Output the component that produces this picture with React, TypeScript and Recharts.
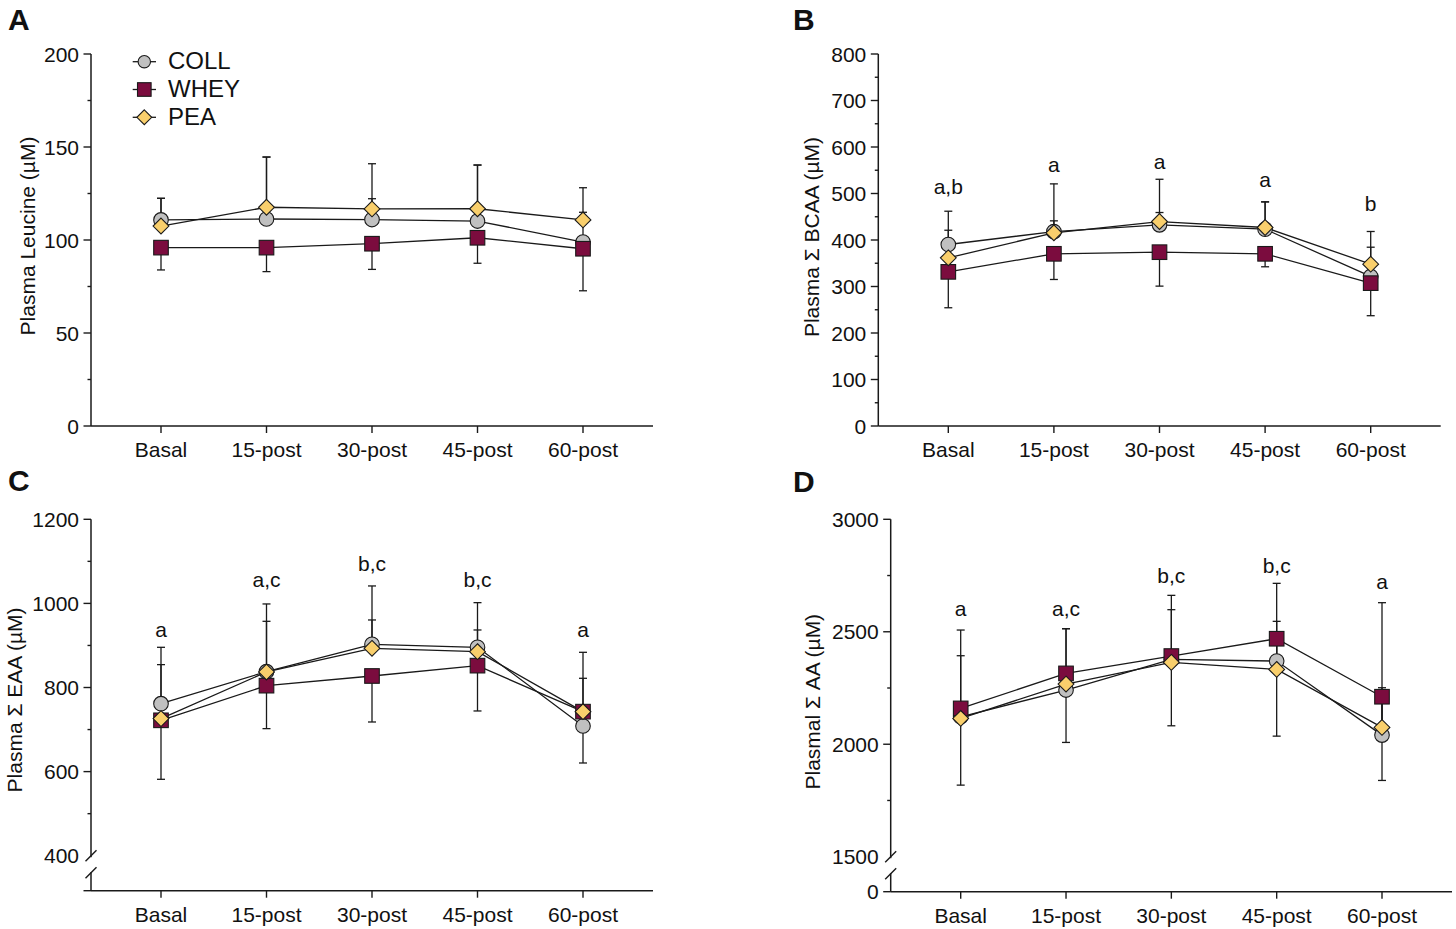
import React from 'react';
import { LineChart, Line, XAxis, YAxis, ErrorBar, LabelList, Legend } from 'recharts';

const FONT = '"Liberation Sans", Arial, Helvetica, sans-serif';
const INK = '#1a1a1a';

const CATEGORIES = ['Basal', '15-post', '30-post', '45-post', '60-post'];

// Panel A – Plasma Leucine
const LEU_COLL = [110.8, 111.3, 111, 110.2, 98.9];
const LEU_COLL_SD = [11.6, 33.3, 11.2, 30.1, 16];
const LEU_WHEY = [95.9, 95.9, 98, 101.2, 95.3];
const LEU_WHEY_SD = [12, 12.9, 13.8, 13.7, 22.6];
const LEU_PEA = [107.5, 117.6, 116.7, 116.8, 110.8];
const LEU_PEA_SD = [14.9, 27, 24.3, 23.5, 17.3];

// Panel B – Plasma Σ BCAA
const BCAA_COLL = [390.3, 418, 432.6, 423.2, 321.6];
const BCAA_COLL_SD = [71.6, 102.7, 98, 58.8, 62.9];
const BCAA_WHEY = [331.5, 370.3, 373.8, 370.3, 307.2];
const BCAA_WHEY_SD = [77.2, 55.2, 73, 27.9, 70];
const BCAA_PEA = [361.6, 415.5, 439.7, 426.9, 348];
const BCAA_PEA_SD = [59.4, 25.7, 19.4, 55.1, 70.3];
const BCAA_SIG = ['a,b', 'a', 'a', 'a', 'b'];
const BCAA_SIG_Y = [499, 546, 553, 513, 463];

// Panel C – Plasma Σ EAA
const EAA_COLL = [761.6, 837.7, 902.7, 895.6, 708.5];
const EAA_COLL_SD = [134, 161, 138.8, 106.2, 175.2];
const EAA_WHEY = [722, 804.4, 827.4, 852, 742.6];
const EAA_WHEY_SD = [140.3, 102.2, 109.4, 107.8, 122.1];
const EAA_PEA = [726, 837, 893.2, 885.3, 742.6];
const EAA_PEA_SD = [128.4, 120.4, 67.4, 51.5, 79.3];
const EAA_SIG = ['a', 'a,c', 'b,c', 'b,c', 'a'];
const EAA_SIG_Y = [921, 1040, 1077, 1040, 921];

// Panel D – Plasma Σ AA
const AA_COLL = [2122, 2240.8, 2377, 2369.8, 2040.6];
const AA_COLL_SD = [385.7, 272.8, 284.9, 345.5, 588.7];
const AA_WHEY = [2159.3, 2314.9, 2392, 2469, 2211.2];
const AA_WHEY_SD = [341.1, 306.9, 310, 433, 372.2];
const AA_PEA = [2114.8, 2267.5, 2363.9, 2332.7, 2074.7];
const AA_PEA_SD = [278.7, 246.1, 234.3, 213.6, 176.5];
const AA_SIG = ['a', 'a,c', 'b,c', 'b,c', 'a'];
const AA_SIG_Y = [2570, 2570, 2718, 2763, 2689];

// Axis ticks
const A_TICKS = [0, 25, 50, 75, 100, 125, 150, 175, 200];
const A_MAJOR = [0, 50, 100, 150, 200];
const B_TICKS = [0, 50, 100, 150, 200, 250, 300, 350, 400, 450, 500, 550, 600, 650, 700, 750, 800];
const B_MAJOR = [0, 100, 200, 300, 400, 500, 600, 700, 800];
const C_MIN = 316.8;
const C_TICKS = [C_MIN, 400, 500, 600, 700, 800, 900, 1000, 1100, 1200];
const C_MAJOR = [C_MIN, 400, 600, 800, 1000, 1200];
const D_MIN = 1344.4;
const D_TICKS = [D_MIN, 1500, 1750, 2000, 2250, 2500, 2750, 3000];
const D_MAJOR = [D_MIN, 1500, 2000, 2500, 3000];

const SERIES = [
  { key: 'coll', name: 'COLL', shape: 'circle', fill: '#c0c0c0' },
  { key: 'whey', name: 'WHEY', shape: 'square', fill: '#7b0c3e' },
  { key: 'pea', name: 'PEA', shape: 'diamond', fill: '#f9cf6c' },
];

type Row = Record<string, any>;

function buildRows(
  coll: number[], collSd: number[],
  whey: number[], wheySd: number[],
  pea: number[], peaSd: number[],
  sigY?: number[], sig?: string[],
): Row[] {
  return CATEGORIES.map((cat, i) => ({
    cat,
    coll: coll[i],
    whey: whey[i],
    pea: pea[i],
    collErr: [0, collSd[i]],
    wheyErr: [wheySd[i], 0],
    peaErr: [0, peaSd[i]],
    sigY: sigY ? sigY[i] : null,
    sig: sig ? sig[i] : '',
  }));
}

const Marker = ({ shape, cx, cy, fill, s = 7.3 }: any) => {
  if (cx == null || cy == null) return null;
  if (shape === 'circle') {
    return <circle cx={cx} cy={cy} r={s} fill={fill} stroke={INK} strokeWidth={1.1} />;
  }
  if (shape === 'square') {
    return <rect x={cx - s} y={cy - s} width={2 * s} height={2 * s} fill={fill} stroke={INK} strokeWidth={1.1} />;
  }
  const h = s + 0.6;
  return (
    <polygon
      points={`${cx},${cy - h} ${cx + h},${cy} ${cx},${cy + h} ${cx - h},${cy}`}
      fill={fill}
      stroke={INK}
      strokeWidth={1.1}
    />
  );
};

const YTick = (props: any) => {
  const { x, y, payload, major, breakAt, fmt } = props;
  const v = payload.value;
  const isMajor = major.includes(v);
  const text = fmt(v);
  return (
    <g>
      {v === breakAt ? (
        <g>
          <rect x={x - 3} y={y + 1.5} width={6} height={15} fill="#fff" />
          <line x1={x - 5.5} y1={y + 5.5} x2={x + 5.5} y2={y - 5.5} stroke={INK} strokeWidth={1.4} />
          <line x1={x - 5.5} y1={y + 22.6} x2={x + 5.5} y2={y + 11.6} stroke={INK} strokeWidth={1.4} />
        </g>
      ) : (
        <line x1={x - (isMajor ? 7.5 : 3.5)} y1={y} x2={x} y2={y} stroke={INK} strokeWidth={1.4} />
      )}
      {text ? (
        <text x={x - 12} y={y} dy="0.36em" textAnchor="end" fontSize={21} fontFamily={FONT} fill="#111">
          {text}
        </text>
      ) : null}
    </g>
  );
};

const AxisTitle = ({ text, tx, ty }: any) => (
  <text
    x={tx}
    y={ty}
    transform={`rotate(-90 ${tx} ${ty})`}
    textAnchor="middle"
    dominantBaseline="central"
    fontSize={21}
    fontFamily={FONT}
    fill="#111"
  >
    {text}
  </text>
);

const SigLabel = (props: any) => {
  const x = props.x ?? props.viewBox?.x;
  const y = props.y ?? props.viewBox?.y;
  if (x == null || y == null || !props.value) return null;
  return (
    <text x={x} y={y} textAnchor="middle" fontSize={21} fontFamily={FONT} fill="#111">
      {props.value}
    </text>
  );
};

const LegendBox = () => (
  <svg width={130} height={90} style={{ display: 'block' }}>
    {SERIES.map((s, i) => {
      const cy = 16.7 + 27.8 * i;
      return (
        <g key={s.key}>
          <line x1={7.7} y1={cy} x2={31} y2={cy} stroke={INK} strokeWidth={1.3} />
          <Marker shape={s.shape} cx={19.3} cy={cy} fill={s.fill} s={s.shape === 'circle' ? 6.2 : 6.8} />
          <text x={43} y={cy + 7.5} fontSize={24} fontFamily={FONT} fill="#111">
            {s.name}
          </text>
        </g>
      );
    })}
  </svg>
);

type PanelProps = {
  left: number;
  top: number;
  width: number;
  height: number;
  margin: { top: number; right: number; bottom: number; left: number };
  xHeight: number;
  data: Row[];
  domain: [number, number];
  ticks: number[];
  major: number[];
  breakAt?: number;
  fmt: (v: number) => string;
  title: string;
  titlePos: [number, number];
  legend?: boolean;
  sig?: boolean;
};

const Panel = (p: PanelProps) => (
  <div style={{ position: 'absolute', left: p.left, top: p.top, width: p.width, height: p.height }}>
    <LineChart width={p.width} height={p.height} data={p.data} margin={p.margin}>
      <XAxis
        dataKey="cat"
        type="category"
        padding={{ left: 70, right: 70 }}
        height={p.xHeight}
        interval={0}
        tickSize={7}
        tickMargin={9}
        axisLine={{ stroke: INK, strokeWidth: 1.5 }}
        tickLine={{ stroke: INK, strokeWidth: 1.4 }}
        tick={{ fontSize: 21, fill: '#111', fontFamily: FONT }}
      />
      <YAxis
        type="number"
        domain={p.domain}
        allowDataOverflow
        ticks={p.ticks}
        interval={0}
        width={60}
        tickSize={0}
        tickMargin={0}
        tickLine={false}
        axisLine={{ stroke: INK, strokeWidth: 1.5 }}
        tick={(tp: any) => <YTick {...tp} major={p.major} breakAt={p.breakAt} fmt={p.fmt} />}
        label={<AxisTitle text={p.title} tx={p.titlePos[0]} ty={p.titlePos[1]} />}
      />
      {SERIES.map((s) => (
        <Line
          key={`l-${s.key}`}
          dataKey={s.key}
          name={s.name}
          stroke={INK}
          strokeWidth={1.3}
          dot={false}
          activeDot={false}
          isAnimationActive={false}
          legendType="none"
        >
          <ErrorBar dataKey={`${s.key}Err`} width={4} stroke={INK} strokeWidth={1.3} direction="y" />
        </Line>
      ))}
      {SERIES.map((s) => (
        <Line
          key={`m-${s.key}`}
          dataKey={s.key}
          name={s.name}
          stroke="none"
          activeDot={false}
          isAnimationActive={false}
          dot={(dp: any) => (
            <Marker key={`dot-${s.key}-${dp.index}`} shape={s.shape} cx={dp.cx} cy={dp.cy} fill={s.fill} />
          )}
        />
      ))}
      {p.sig ? (
        <Line dataKey="sigY" stroke="none" dot={false} activeDot={false} isAnimationActive={false} legendType="none">
          <LabelList dataKey="sig" content={<SigLabel />} />
        </Line>
      ) : null}
      {p.legend ? (
        <Legend
          layout="vertical"
          align="center"
          verticalAlign="middle"
          content={() => <LegendBox />}
          wrapperStyle={{ left: 125, top: 45, width: 130, height: 90 }}
        />
      ) : null}
    </LineChart>
  </div>
);

const plain = (v: number) => String(v);

export default function App() {
  const dataA = buildRows(LEU_COLL, LEU_COLL_SD, LEU_WHEY, LEU_WHEY_SD, LEU_PEA, LEU_PEA_SD);
  const dataB = buildRows(BCAA_COLL, BCAA_COLL_SD, BCAA_WHEY, BCAA_WHEY_SD, BCAA_PEA, BCAA_PEA_SD, BCAA_SIG_Y, BCAA_SIG);
  const dataC = buildRows(EAA_COLL, EAA_COLL_SD, EAA_WHEY, EAA_WHEY_SD, EAA_PEA, EAA_PEA_SD, EAA_SIG_Y, EAA_SIG);
  const dataD = buildRows(AA_COLL, AA_COLL_SD, AA_WHEY, AA_WHEY_SD, AA_PEA, AA_PEA_SD, AA_SIG_Y, AA_SIG);

  return (
    <div style={{ position: 'absolute', left: 0, top: 0, width: 1456, height: 929, background: '#fff', overflow: 'hidden' }}>
      <Panel
        left={0}
        top={0}
        width={728}
        height={465}
        margin={{ top: 54, right: 75, bottom: 0, left: 31 }}
        xHeight={39}
        data={dataA}
        domain={[0, 200]}
        ticks={A_TICKS}
        major={A_MAJOR}
        fmt={(v) => (A_MAJOR.includes(v) ? plain(v) : '')}
        title="Plasma Leucine (µM)"
        titlePos={[27, 236]}
        legend
      />
      <Panel
        left={728}
        top={0}
        width={728}
        height={465}
        margin={{ top: 54, right: 15.3, bottom: 0, left: 90.3 }}
        xHeight={39}
        data={dataB}
        domain={[0, 800]}
        ticks={B_TICKS}
        major={B_MAJOR}
        fmt={(v) => (B_MAJOR.includes(v) ? plain(v) : '')}
        title="Plasma Σ BCAA (µM)"
        titlePos={[83, 237]}
        sig
      />
      <Panel
        left={0}
        top={465}
        width={728}
        height={464}
        margin={{ top: 54.3, right: 75, bottom: 0, left: 31 }}
        xHeight={38.3}
        data={dataC}
        domain={[C_MIN, 1200]}
        ticks={C_TICKS}
        major={C_MAJOR}
        breakAt={400}
        fmt={(v) => (v === C_MIN ? '' : C_MAJOR.includes(v) ? plain(v) : '')}
        title="Plasma Σ EAA (µM)"
        titlePos={[14, 235]}
        sig
      />
      <Panel
        left={728}
        top={465}
        width={728}
        height={464}
        margin={{ top: 54.3, right: 4, bottom: 0, left: 102.7 }}
        xHeight={37.3}
        data={dataD}
        domain={[D_MIN, 3000]}
        ticks={D_TICKS}
        major={D_MAJOR}
        breakAt={1500}
        fmt={(v) => (v === D_MIN ? '0' : D_MAJOR.includes(v) ? plain(v) : '')}
        title="Plasmal Σ AA (µM)"
        titlePos={[85, 236.7]}
        sig
      />
      <svg width={1456} height={929} style={{ position: 'absolute', left: 0, top: 0, pointerEvents: 'none' }}>
        <text x={8} y={30} fontSize={30} fontWeight="bold" fontFamily={FONT} fill="#111">A</text>
        <text x={793} y={29.5} fontSize={30} fontWeight="bold" fontFamily={FONT} fill="#111">B</text>
        <text x={8} y={491} fontSize={30} fontWeight="bold" fontFamily={FONT} fill="#111">C</text>
        <text x={793} y={491.5} fontSize={30} fontWeight="bold" fontFamily={FONT} fill="#111">D</text>
      </svg>
    </div>
  );
}
